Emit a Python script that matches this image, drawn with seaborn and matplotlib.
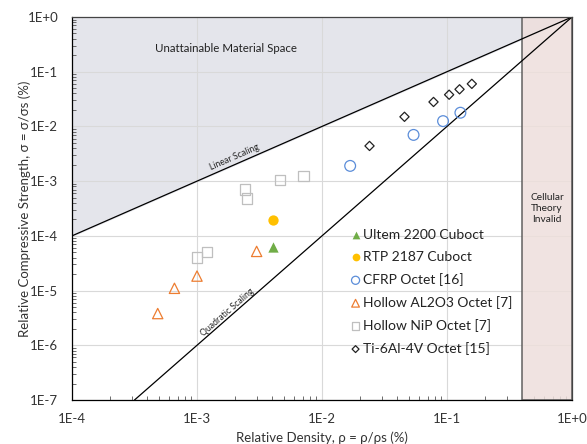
import matplotlib
matplotlib.use("Agg")
import matplotlib.pyplot as plt
from matplotlib.ticker import LogLocator, NullFormatter
import numpy as np
import seaborn as sns
import pandas as pd

sns.set_style("white")
plt.rcParams['font.family'] = ['Lato', 'DejaVu Sans']

# data
ultem_x = [4.05e-3]
ultem_y = [6.2e-5]
rtp_x = [4.05e-3]
rtp_y = [1.95e-4]
cfrp_x = [0.0168, 0.054, 0.093, 0.128]
cfrp_y = [1.9e-3, 7.0e-3, 1.25e-2, 1.78e-2]
al2o3_x = [4.85e-4, 6.6e-4, 1.0e-3, 3.0e-3]
al2o3_y = [3.8e-6, 1.1e-5, 1.84e-5, 5.2e-5]
nip_x = [1.0e-3, 1.2e-3, 2.42e-3, 2.52e-3, 4.61e-3, 7.1e-3]
nip_y = [4.0e-5, 5.1e-5, 7.0e-4, 4.8e-4, 1.05e-3, 1.25e-3]
ti_x = [0.024, 0.0457, 0.078, 0.104, 0.126, 0.158]
ti_y = [4.4e-3, 0.015, 0.028, 0.038, 0.0477, 0.060]

linear_x = [1e-4, 1.0]
linear_y = [1e-4, 1.0]
quad_x = [10**-3.5, 1.0]
quad_y = [1e-7, 1.0]
invalid_start = 0.4

fig = plt.figure(figsize=(5.87, 4.44), dpi=100)
ax = fig.add_axes([72/587, 1-400/444, 500/587, 383/444])
ax.set_xscale("log")
ax.set_yscale("log")
ax.set_xlim(1e-4, 1)
ax.set_ylim(1e-7, 1)

# shaded zones
ax.fill_between(linear_x, linear_y, [1, 1], color="#E4E5EB", zorder=0)
ax.axvspan(invalid_start, 1, facecolor="#EEDFDC", alpha=0.85, edgecolor="#555555", lw=1.2, zorder=1)

ax.grid(True, which="major", color="#D9D9D9", lw=0.8, zorder=0.5)
ax.set_axisbelow(True)

sns.lineplot(x=linear_x, y=linear_y, color="black", lw=0.9, ax=ax, zorder=2)
sns.lineplot(x=quad_x, y=quad_y, color="black", lw=0.9, ax=ax, zorder=2)

series = [
    ("Ultem 2200 Cuboct", ultem_x, ultem_y, "^", "#70AD47", "#70AD47", 55),
    ("RTP 2187 Cuboct", rtp_x, rtp_y, "o", "#FFC000", "#FFC000", 55),
    ("CFRP Octet [16]", cfrp_x, cfrp_y, "o", "none", "#5B8DD9", 60),
    ("Hollow AL2O3 Octet [7]", al2o3_x, al2o3_y, "^", "none", "#ED7D31", 55),
    ("Hollow NiP Octet [7]", nip_x, nip_y, "s", "none", "#BFBFBF", 55),
    ("Ti-6Al-4V Octet [15]", ti_x, ti_y, "D", "none", "#222222", 22),
]
for label, xs, ys, mk, fc, ec, s in series:
    df = pd.DataFrame({"x": xs, "y": ys})
    sns.scatterplot(data=df, x="x", y="y", marker=mk, s=s, facecolors=fc,
                    edgecolors=ec, linewidths=0.9 if fc == "none" else 0,
                    color=ec, label=label, ax=ax, zorder=3)

ticks_x = [1e-4, 1e-3, 1e-2, 1e-1, 1]
ticks_y = [1e-7, 1e-6, 1e-5, 1e-4, 1e-3, 1e-2, 1e-1, 1]
ax.set_xticks(ticks_x, ["1E-4", "1E-3", "1E-2", "1E-1", "1E+0"])
ax.set_yticks(ticks_y, ["1E-7", "1E-6", "1E-5", "1E-4", "1E-3", "1E-2", "1E-1", "1E+0"])
ax.xaxis.set_minor_locator(LogLocator(base=10, subs=np.arange(2, 10), numticks=20))
ax.yaxis.set_minor_locator(LogLocator(base=10, subs=np.arange(2, 10), numticks=20))
ax.xaxis.set_minor_formatter(NullFormatter())
ax.yaxis.set_minor_formatter(NullFormatter())
ax.tick_params(which="major", direction="in", length=0, labelsize=9.5, colors="#333333")
ax.tick_params(which="minor", direction="in", length=3, width=0.6, color="#555555",
               bottom=True, left=True, top=False, right=False)
ax.tick_params(axis="x", which="major", pad=9)
ax.tick_params(axis="y", which="major", pad=10)

for sp in ax.spines.values():
    sp.set_color("#444444")
    sp.set_linewidth(0.9)
ax.spines["left"].set_color("black")
ax.spines["bottom"].set_color("black")

ax.set_xlabel("Relative Density, ρ = ρ/ρs (%)", fontsize=9.5, color="#333333", labelpad=5)
ax.set_ylabel("Relative Compressive Strength, σ = σ/σs (%)", fontsize=9.5, color="#333333")
ax.yaxis.set_label_coords(-0.082, 0.5)

ax.text(10**-2.77, 10**-0.57, "Unattainable Material Space", fontsize=8.3, ha="center", va="center", color="#222222")
ax.text(10**-2.70, 10**-2.56, "Linear Scaling", fontsize=6.3, rotation=23.6, ha="center", va="center",
        rotation_mode="anchor", color="#222222")
ax.text(10**-2.76, 10**-5.40, "Quadratic Scaling", fontsize=6.3, rotation=41.2, ha="center", va="center",
        rotation_mode="anchor", color="#222222")
ax.text(10**-0.2, 10**-3.5, "Cellular\nTheory\nInvalid", fontsize=7.3, ha="center", va="center",
        linespacing=1.25, color="#222222")

leg = ax.legend(loc="upper left", frameon=False, fontsize=10, handletextpad=0.15,
                labelspacing=0.72, handlelength=0.8, borderaxespad=0, markerscale=0.75,
                borderpad=0)
for t in leg.get_texts():
    t.set_color("#222222")
leg.set_bbox_to_anchor((350/587, 1-229/444), transform=fig.transFigure)

fig.savefig("out.png", dpi=100)
